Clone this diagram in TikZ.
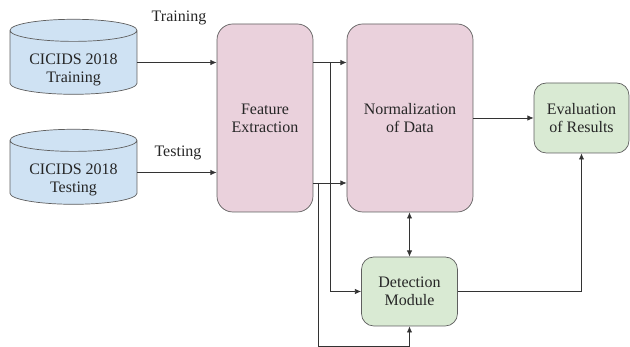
\documentclass[tikz,border=0pt]{standalone}
\usepackage{fontspec}
\newfontfamily\boxfont{Liberation Serif}
\usetikzlibrary{shapes.geometric,arrows.meta,calc}
\definecolor{dbblue}{HTML}{CFE2F3}
\definecolor{procpink}{HTML}{EAD1DC}
\definecolor{resgreen}{HTML}{D9EAD3}
\definecolor{edgegray}{HTML}{5F5F5F}

\begin{document}
\begin{tikzpicture}[
  font=\boxfont\fontsize{9.1}{10.4}\selectfont,
  text=black!85,
  >={Latex[length=3.5pt,width=3pt]},
  dataset/.style={cylinder, shape border rotate=90, aspect=0.25, draw=edgegray,
    fill=dbblue, minimum width=2.54cm, minimum height=1.5cm, inner sep=0pt},
  dbname/.style={align=center, inner sep=0pt},
  procbox/.style={draw=edgegray, fill=procpink, rounded corners=9pt, inner sep=0pt, align=center},
  resbox/.style={draw=edgegray, fill=resgreen, rounded corners=7pt, inner sep=0pt, align=center},
  link/.style={draw=black!80, ->}
]
\useasboundingbox (0,0) rectangle (12.6,6.94);

% the two data sets, names set a little below the lid
\node[dataset] (train) at (1.47,5.69) {\phantom{CICIDS 2018}};
\node[dataset] (test) at (1.47,3.49) {\phantom{CICIDS 2018}};
\node[dbname] (trainname) at ([yshift=-0.15cm]train.center) {CICIDS 2018\\Training};
\node[dbname] (testname) at ([yshift=-0.15cm]test.center) {CICIDS 2018\\Testing};
\node (trainlbl) at (3.58,6.58) {Training};
\node (testlbl) at (3.56,3.88) {Testing};

\node[procbox, minimum width=1.92cm, minimum height=3.76cm] (feat) at (5.30,4.58) {Feature\\Extraction};
\node[procbox, minimum width=2.52cm, minimum height=3.76cm] (norm) at (8.20,4.58) {Normalization\\of Data};
\node[resbox, minimum width=1.9cm, minimum height=1.4cm] (eval) at (11.63,4.58) {Evaluation\\of Results};
\node[resbox, minimum width=1.92cm, minimum height=1.38cm] (det) at (8.19,1.11) {Detection\\Module};

% inputs into feature extraction
\draw[link] (train.east) -- (train.east -| feat.west);
\draw[link] (test.east) -- (test.east -| feat.west);

% feature extraction outputs
\coordinate (fhi) at (feat.east |- train.east);
\coordinate (flo) at ([yshift=-1.3cm]feat.east);
\draw[link] (fhi) -- (fhi -| norm.west);
\draw[link] (flo) -- (flo -| norm.west);
\draw[link] ([xshift=0.34cm]fhi) |- (det.west);
\coordinate (floor) at ([yshift=-0.41cm]det.south);
\draw[link] ([xshift=0.1cm]flo) |- (floor) -- (det.south);

\draw[link, <->] (det.north |- norm.south) -- (det.north);
\draw[link] (norm.east) -- (eval.west);
\draw[link] (det.east) -| (eval.south);
\end{tikzpicture}
\end{document}
